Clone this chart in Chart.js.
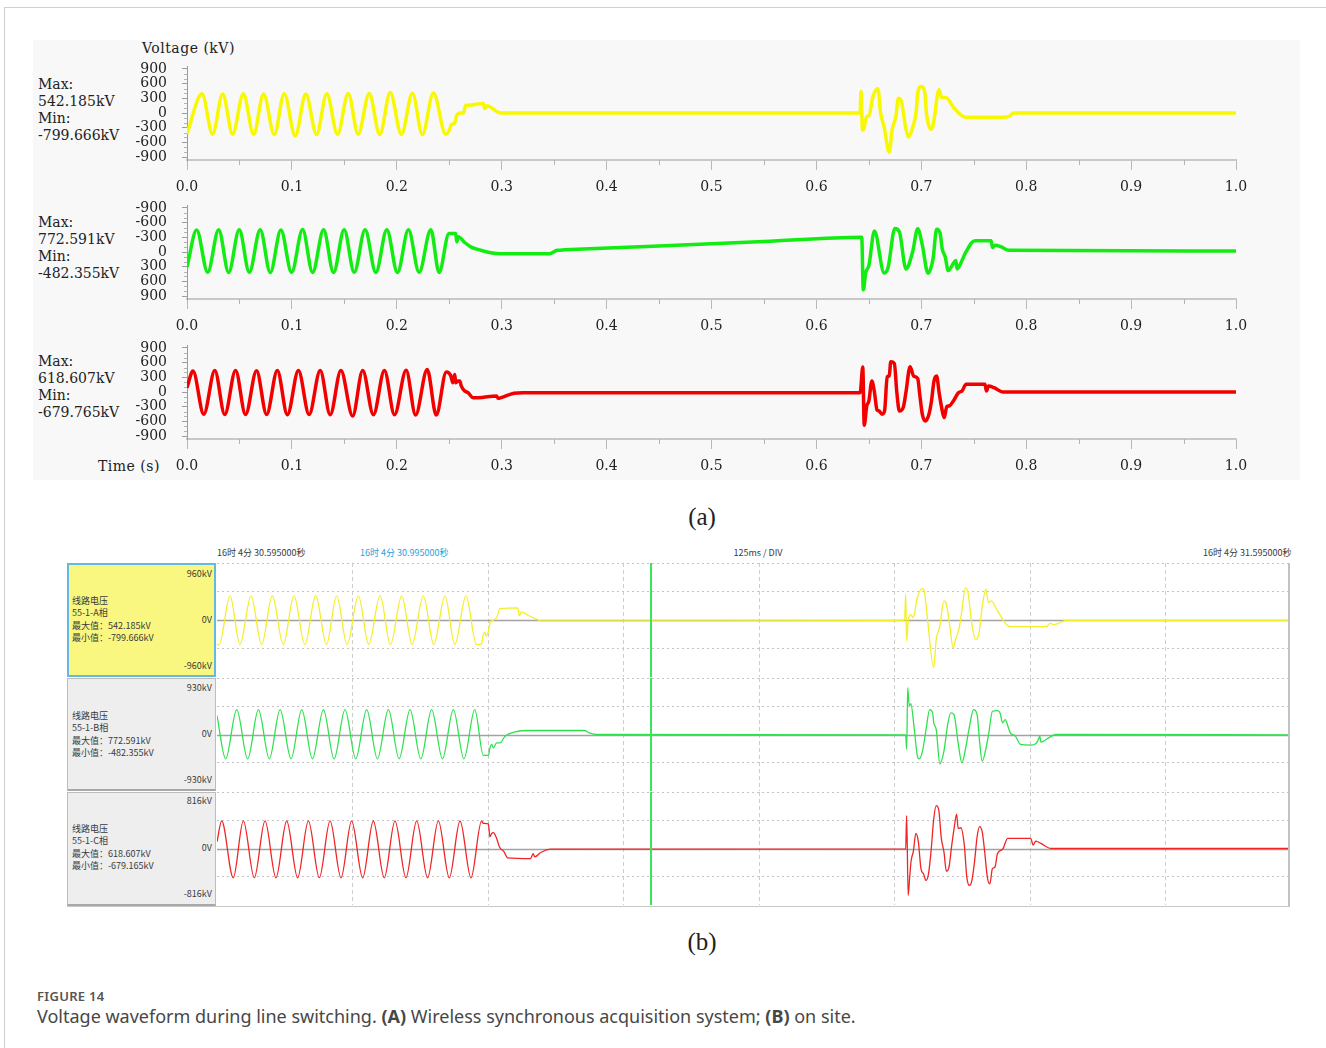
<!DOCTYPE html>
<html>
<head>
<meta charset="utf-8">
<title>Voltage waveform during line switching</title>
<script src="https://cdn.jsdelivr.net/npm/chart.js@4.4.1/dist/chart.umd.min.js"></script>
<style>
  html, body { margin: 0; padding: 0; background: #fff; }
  body { width: 1326px; height: 1048px; position: relative; overflow: hidden; font-family: "Noto Sans", sans-serif; }
  .abs { position: absolute; }
  #frame { left: 4px; top: 7px; width: 1322px; height: 1041px; border-top: 1px solid #cfcfcf; border-left: 1px solid #cfcfcf; box-sizing: border-box; }
  #scopeBg { left: 33px; top: 40px; width: 1267px; height: 440px; background: #f8f8f8; }
  .serif { font-family: "DejaVu Serif", serif; font-size: 14px; color: #222; white-space: nowrap; }
  .info { line-height: 17px; }
  .panelTag { font-family: "Liberation Serif", serif; font-size: 25px; color: #222; width: 60px; text-align: center; line-height: 30px; }
  .cjk { font-family: "Noto Sans CJK SC", sans-serif; font-size: 9px; color: #3a3a3a; line-height: 12px; white-space: nowrap; }
  .box { box-sizing: border-box; }
  #boxA { left: 67px; top: 563px; width: 149px; height: 114px; background: #f9f77f; border: 2px solid #62b9e4; }
  #boxB { left: 67px; top: 678px; width: 149px; height: 113px; background: #eeeeee; border: 1px solid #bdbdbd; border-bottom: 2px solid #a8a8a8; }
  #boxC { left: 67px; top: 792px; width: 149px; height: 114px; background: #eeeeee; border: 1px solid #bdbdbd; border-bottom: 2px solid #a8a8a8; }
  .rlab { width: 60px; text-align: right; }
  #caption1 { left: 37px; top: 987px; font-size: 13px; font-weight: 600; color: #555; letter-spacing: 0.3px; line-height: 18px; }
  #caption2 { left: 37px; top: 1004px; font-size: 18px; color: #474747; line-height: 24px; white-space: nowrap; }
  canvas { position: absolute; }
</style>
</head>
<body>
<div id="frame" class="abs"></div>
<div id="scopeBg" class="abs"></div>

<!-- wireless acquisition traces -->
<div class="abs serif" style="left:142px; top:40px; line-height:16px; letter-spacing:0.5px;">Voltage (kV)</div>
<div class="abs serif info" style="left:38px; top:76px;">Max:<br>542.185kV<br>Min:<br>-799.666kV</div>
<div class="abs serif info" style="left:38px; top:214px;">Max:<br>772.591kV<br>Min:<br>-482.355kV</div>
<div class="abs serif info" style="left:38px; top:353px;">Max:<br>618.607kV<br>Min:<br>-679.765kV</div>
<div class="abs serif" style="left:98px; top:458px; line-height:16px; letter-spacing:0.5px;">Time (s)</div>
<canvas id="scopeA" width="1267" height="140" style="left:33px; top:60px;"></canvas>
<canvas id="scopeB" width="1267" height="140" style="left:33px; top:199px;"></canvas>
<canvas id="scopeC" width="1267" height="140" style="left:33px; top:339px;"></canvas>
<div class="abs panelTag" style="left:672px; top:502px;">(a)</div>

<!-- on-site recorder traces -->
<div class="abs cjk" style="left:217px; top:547px;">16时 4分 30.595000秒</div>
<div class="abs cjk" style="left:360px; top:547px; color:#2a9fd8;">16时 4分 30.995000秒</div>
<div class="abs cjk" style="left:708px; top:547px; width:100px; text-align:center;">125ms / DIV</div>
<div class="abs cjk" style="left:1203px; top:547px;">16时 4分 31.595000秒</div>

<div id="boxA" class="abs box"></div>
<div id="boxB" class="abs box"></div>
<div id="boxC" class="abs box"></div>

<div class="abs cjk rlab" style="left:152px; top:568px;">960kV</div>
<div class="abs cjk rlab" style="left:152px; top:614px;">0V</div>
<div class="abs cjk rlab" style="left:152px; top:660px;">-960kV</div>
<div class="abs cjk" style="left:72px; top:595px;">线路电压</div>
<div class="abs cjk" style="left:72px; top:607px;">55-1-A相</div>
<div class="abs cjk" style="left:72px; top:620px;">最大值：542.185kV</div>
<div class="abs cjk" style="left:72px; top:632px;">最小值：-799.666kV</div>

<div class="abs cjk rlab" style="left:152px; top:682px;">930kV</div>
<div class="abs cjk rlab" style="left:152px; top:728px;">0V</div>
<div class="abs cjk rlab" style="left:152px; top:774px;">-930kV</div>
<div class="abs cjk" style="left:72px; top:710px;">线路电压</div>
<div class="abs cjk" style="left:72px; top:722px;">55-1-B相</div>
<div class="abs cjk" style="left:72px; top:735px;">最大值：772.591kV</div>
<div class="abs cjk" style="left:72px; top:747px;">最小值：-482.355kV</div>

<div class="abs cjk rlab" style="left:152px; top:795px;">816kV</div>
<div class="abs cjk rlab" style="left:152px; top:842px;">0V</div>
<div class="abs cjk rlab" style="left:152px; top:888px;">-816kV</div>
<div class="abs cjk" style="left:72px; top:823px;">线路电压</div>
<div class="abs cjk" style="left:72px; top:835px;">55-1-C相</div>
<div class="abs cjk" style="left:72px; top:848px;">最大值：618.607kV</div>
<div class="abs cjk" style="left:72px; top:860px;">最小值：-679.165kV</div>

<canvas id="siteA" width="1071" height="114" style="left:217px; top:563px;"></canvas>
<canvas id="siteB" width="1071" height="113" style="left:217px; top:678px;"></canvas>
<canvas id="siteC" width="1071" height="113" style="left:217px; top:792px;"></canvas>
<div class="abs" style="left:1288px; top:563px; width:2px; height:344px; background:#c2c2c2;"></div>
<div class="abs" style="left:67px; top:906px; width:1223px; height:1px; background:#c8c8c8;"></div>
<div class="abs panelTag" style="left:672px; top:927px;">(b)</div>

<div id="caption1" class="abs">FIGURE 14</div>
<div id="caption2" class="abs">Voltage waveform during line switching. <b>(A)</b> Wireless synchronous acquisition system; <b>(B)</b> on site.</div>

<script>
// ---- time axis / tick values ----
const TIME_TICKS = [0, 0.1, 0.2, 0.3, 0.4, 0.5, 0.6, 0.7, 0.8, 0.9, 1.0];
const TIME_MINOR = [0.05, 0.15, 0.25, 0.35, 0.45, 0.55, 0.65, 0.75, 0.85, 0.95];
const KV_TICKS = [-900, -600, -300, 0, 300, 600, 900];
const KV_MINOR = [-800, -700, -500, -400, -200, -100, 100, 200, 400, 500, 700, 800];
const DIV_TICKS = [0.125, 0.25, 0.375, 0.5, 0.625, 0.75, 0.875];   // 125 ms / DIV
const CURSOR_T = 0.4;                                                // 30.995 s cursor
const SITE_RANGE = [960, 930, 816];                                  // kV full scale per trace

// ---- wireless acquisition: [time s, voltage kV] ----
const scopePhaseA = [
  [0, -425], [0.0143, 391], [0.0244, -433], [0.034, 388], [0.0435, -430], [0.0537, 395],
  [0.0635, -436], [0.073, 390], [0.0832, -440], [0.0927, 392], [0.1032, -467], [0.1133, 389],
  [0.1235, -438], [0.1333, 393], [0.1435, -435], [0.1537, 396], [0.1632, -432], [0.1737, 398],
  [0.1838, -440], [0.1937, 420], [0.2044, -436], [0.2149, 401], [0.2244, -440], [0.2349, 410],
  [0.2467, -433], [0.2498, -363], [0.252, -237], [0.2552, -209], [0.2571, -49], [0.261, 0],
  [0.2635, 0], [0.2657, 160], [0.2689, 160], [0.2825, 195], [0.2838, 90], [0.2857, 147],
  [0.299, 0], [0.6417, 0], [0.6425, 440], [0.644, -350], [0.6451, -330], [0.648, -70],
  [0.65, -60], [0.6539, 335], [0.6587, 495], [0.6612, 0], [0.6646, -290], [0.6694, -799.666],
  [0.6723, -330], [0.6757, -80], [0.6782, 300], [0.6806, 265], [0.6854, -330], [0.6879, -490],
  [0.6917, -300], [0.6951, 20], [0.6966, 405], [0.7, 542.185], [0.7034, 405], [0.7049, 0],
  [0.7097, -330], [0.7131, -10], [0.7146, 265], [0.717, 475], [0.7194, 315], [0.7233, 315],
  [0.7316, 90], [0.7422, -85], [0.7777, -85], [0.785, -55], [0.7874, 0], [1.0, 0]
];
const scopePhaseB = [
  [0, 310], [0.0092, -450], [0.0197, 415], [0.0302, -455], [0.0397, 418], [0.0498, -452],
  [0.0594, 415], [0.0698, -455], [0.0794, 420], [0.0895, -450], [0.0997, 416], [0.1102, -458],
  [0.1197, 418], [0.1302, -452], [0.1397, 420], [0.1498, -455], [0.1594, 415], [0.1698, -452],
  [0.18, 418], [0.1905, -455], [0.2006, 420], [0.2111, -452], [0.2213, 416], [0.2324, -455],
  [0.2403, 418], [0.2498, -380], [0.2562, -380], [0.2571, -208], [0.2587, -312], [0.2641, -208],
  [0.2705, -104], [0.28, -35], [0.2895, 14], [0.299, 35], [0.3456, 35], [0.3529, -35],
  [0.36, -44], [0.45, -122], [0.55, -213],
  [0.6432, -300], [0.6447, 772.591], [0.6471, 415], [0.65, 280], [0.6553, -430], [0.6646, 430],
  [0.6684, 310], [0.6748, -482.355], [0.6791, -415], [0.6854, 346], [0.6917, 0], [0.6966, -475],
  [0.701, -140], [0.7063, 430], [0.7112, 140], [0.7146, -465], [0.718, -380], [0.7199, -70],
  [0.7228, 100], [0.7257, 380], [0.733, 173], [0.734, 345], [0.7388, 173], [0.7422, 14],
  [0.751, -230], [0.7665, -230], [0.768, -90], [0.7704, -140], [0.7762, -104], [0.7835, -35],
  [1.0, -20]
];
const scopePhaseC = [
  [0, 88], [0.0057, 428], [0.016, -455], [0.0265, 440], [0.036, -460], [0.0463, 440],
  [0.0558, -460], [0.0663, 435], [0.0759, -460], [0.0861, 440], [0.0957, -465], [0.1062, 440],
  [0.1164, -460], [0.127, 440], [0.1365, -465], [0.1467, 440], [0.1579, -490], [0.1675, 440],
  [0.1777, -465], [0.1882, 440], [0.1978, -465], [0.2089, 445], [0.2179, -470], [0.229, 460],
  [0.2376, -470], [0.2472, 410], [0.2513, 340], [0.2535, 190], [0.2552, 360], [0.2562, 190],
  [0.2584, 225], [0.26, 225], [0.2615, 120], [0.2648, 20], [0.2679, -14], [0.2727, -115],
  [0.2775, -115], [0.295, -80], [0.2966, -130], [0.2995, -115], [0.3117, -27], [0.32, -14],
  [0.6417, -14], [0.6442, 510], [0.6456, -679.765], [0.648, -285], [0.65, -183], [0.6529, 224],
  [0.6553, 0], [0.6578, -367], [0.6597, -387], [0.6626, -455], [0.665, -387], [0.6675, 312],
  [0.6694, 326], [0.6709, 618.607], [0.6743, 584], [0.6767, -14], [0.6791, -387], [0.683, -300],
  [0.6854, 0], [0.6893, 516], [0.6927, 326], [0.6966, 272], [0.6985, -48], [0.701, -455],
  [0.7039, -591], [0.7073, -455], [0.7097, -183], [0.7121, 224], [0.7146, 326], [0.717, -14],
  [0.7194, -320], [0.7218, -523], [0.7243, -300], [0.7267, -285], [0.7306, -183], [0.7354, -14],
  [0.7388, 20], [0.7427, 156], [0.7607, 156], [0.7621, 20], [0.7641, 122], [0.7694, 88],
  [0.7777, 0], [1.0, 0]
];

// ---- on-site recorder: [time s from 30.595 s, voltage kV] ----
const sitePhaseA = [
  [0, -412], [0.002, -414], [0.012, 407], [0.0212, -412], [0.0314, 405], [0.0412, -415],
  [0.051, 408], [0.0611, -412], [0.071, 406], [0.0811, -414], [0.091, 408], [0.101, -412],
  [0.1104, 407], [0.12, -413], [0.1304, 405], [0.14, -412], [0.1504, 409], [0.16, -414],
  [0.1704, 406], [0.18, -412], [0.1903, 408], [0.2, -413], [0.2103, 407], [0.2194, -412],
  [0.2297, 406], [0.2393, -412], [0.244, -412], [0.2457, -243], [0.2472, -203], [0.2481, -271],
  [0.2503, -190], [0.2518, -45], [0.2549, 0], [0.258, 40], [0.2611, 192], [0.2775, 203],
  [0.2789, 68], [0.2808, 136], [0.2869, 80], [0.2964, 0], [0.2987, -17], [0.6235, -10],
  [0.6343, 0], [0.6353, 435], [0.6362, -356], [0.6376, -17], [0.64, 96], [0.6423, 40],
  [0.6461, 379], [0.6508, 531], [0.6527, 463], [0.6555, 11], [0.6611, -799.666], [0.6635, -328],
  [0.6668, -102], [0.6706, 322], [0.6729, 265], [0.6762, -130], [0.6791, -469], [0.6814, -328],
  [0.6847, -130], [0.6871, 153], [0.6904, 542.185], [0.6928, 463], [0.6966, -102], [0.6999, -327],
  [0.7027, -243], [0.706, 237], [0.7093, 520], [0.7117, 294], [0.7141, 322], [0.7202, 150],
  [0.7273, -56], [0.732, -113], [0.765, -113], [0.7687, -56], [0.772, -79], [0.7838, -5],
  [0.988, -5]
];
const sitePhaseB = [
  [0, 312], [0.008, -400], [0.0182, 410], [0.0283, -402], [0.0382, 408], [0.0483, -400],
  [0.0582, 411], [0.0683, -401], [0.0782, 409], [0.088, -400], [0.0982, 410], [0.108, -402],
  [0.1181, 408], [0.128, -400], [0.1381, 410], [0.148, -401], [0.1581, 409], [0.168, -400],
  [0.1781, 410], [0.188, -402], [0.198, 408], [0.208, -400], [0.218, 410], [0.2278, -401],
  [0.2378, 410], [0.2457, -345], [0.2503, -345], [0.2518, -219], [0.2534, -164], [0.2549, -219],
  [0.258, -137], [0.2611, -137], [0.2658, -27], [0.2752, 44], [0.2893, 66], [0.3387, 66],
  [0.3434, 27], [0.3505, 0], [0.6353, -5], [0.6362, -246], [0.6372, 772.591], [0.6386, 465],
  [0.64, 509], [0.6433, 82], [0.6461, -355], [0.648, -400], [0.6508, -274], [0.6541, 82],
  [0.6574, 410], [0.6602, 355], [0.6612, 191], [0.6635, 82], [0.6668, -482.355], [0.6706, -274],
  [0.6743, 191], [0.6771, 355], [0.6799, 328], [0.6837, -137], [0.6871, -465], [0.6904, -246],
  [0.6942, 137], [0.6979, 410], [0.7012, 328], [0.7036, -137], [0.7059, -438], [0.7092, -246],
  [0.712, 27], [0.7153, 383], [0.72, 394], [0.7224, 355], [0.7247, 191], [0.7271, 246],
  [0.7294, 148], [0.7318, 27], [0.7365, -27], [0.7412, -164], [0.7506, -175], [0.7553, -153],
  [0.7577, -82], [0.7591, -27], [0.76, -126], [0.7671, -55], [0.7741, 0], [0.988, -5]
];
const sitePhaseC = [
  [0, 97], [0.0043, 398], [0.015, -423], [0.0243, 399], [0.0344, -421], [0.0443, 398],
  [0.0544, -424], [0.0643, 397], [0.0744, -423], [0.0843, 398], [0.0944, -422], [0.1043, 399],
  [0.1144, -423], [0.1242, 398], [0.1344, -424], [0.1442, 397], [0.1543, -423], [0.1642, 398],
  [0.1743, -422], [0.1842, 399], [0.1943, -423], [0.2042, 398], [0.2143, -424], [0.2242, 397],
  [0.2343, -423], [0.2441, 398], [0.2457, 364], [0.2503, 355], [0.2518, 170], [0.2534, 218],
  [0.2549, 228], [0.258, 146], [0.2605, 24], [0.2648, -49], [0.2681, -136], [0.2893, -146],
  [0.2917, -73], [0.2931, -121], [0.2987, -58], [0.3081, -10], [0.6353, -5], [0.6362, 476],
  [0.6376, -679.165], [0.639, -413], [0.6404, -170], [0.6423, -49], [0.6447, 218], [0.647, 97],
  [0.6494, -291], [0.6517, -364], [0.6541, -461], [0.6564, -364], [0.6588, -24], [0.6611, 413],
  [0.6635, 618.607], [0.6658, 558], [0.6682, 146], [0.6706, -49], [0.6729, -330], [0.6753, -267],
  [0.6776, 24], [0.68, 291], [0.6823, 495], [0.6837, 291], [0.6861, 300], [0.6894, 49],
  [0.6917, -413], [0.6941, -534], [0.6964, -461], [0.6988, -194], [0.7012, 170], [0.7035, 316],
  [0.7059, 243], [0.7082, -49], [0.7106, -413], [0.713, -510], [0.7153, -291], [0.7177, -267],
  [0.72, -73], [0.7247, -10], [0.7294, 146], [0.7506, 146], [0.753, 49], [0.7553, 107],
  [0.76, 73], [0.7694, 0], [0.988, 0]
];

const toXY = pts => pts.map(([t, v]) => ({ x: t, y: v }));
const fixedTicks = list => scale => { scale.ticks = list.map(v => ({ value: v })); };

// fixed axis box sizes, without the label overflow padding
const fixedBox = (w, h) => scale => {
  if (w !== null) scale.width = w;
  if (h !== null) scale.height = h;
  scale.paddingTop = 0; scale.paddingBottom = 0;
  scale.paddingLeft = 0; scale.paddingRight = 0;
};

// short minor tick marks on the scope axes
const minorTicks = {
  id: 'minorTicks',
  afterDraw(chart) {
    const { ctx, scales: { x, y } } = chart;
    ctx.save();
    ctx.strokeStyle = '#b4b4b4';
    ctx.lineWidth = 1;
    ctx.beginPath();
    TIME_MINOR.forEach(v => {
      const px = Math.round(x.getPixelForValue(v)) + 0.5;
      ctx.moveTo(px, x.top);
      ctx.lineTo(px, x.top + 5);
    });
    KV_MINOR.forEach(v => {
      const py = Math.round(y.getPixelForValue(v)) + 0.5;
      ctx.moveTo(y.right - 3, py);
      ctx.lineTo(y.right, py);
    });
    ctx.stroke();
    ctx.restore();
  }
};

function scopeChart(id, points, color, reversed) {
  const font = { family: 'DejaVu Serif', size: 14 };
  return new Chart(document.getElementById(id), {
    type: 'line',
    data: { datasets: [{ data: toXY(points), borderColor: color, borderWidth: 3.5, pointRadius: 0,
      cubicInterpolationMode: 'monotone', fill: false }] },
    options: {
      responsive: false, animation: false, devicePixelRatio: 1,
      layout: { autoPadding: false, padding: { top: 6, right: 64, left: 0, bottom: 0 } },
      plugins: { legend: { display: false }, tooltip: { enabled: false } },
      scales: {
        x: {
          type: 'linear', min: 0, max: 1,
          afterBuildTicks: fixedTicks(TIME_TICKS),
          afterFit: fixedBox(null, 40),
          ticks: { callback: v => Number(v).toFixed(1), font, color: '#222', padding: 9, maxRotation: 0, autoSkip: false },
          grid: { drawOnChartArea: false, tickLength: 10, color: '#b8b8b8' },
          border: { color: '#c8c8c8', width: 2 }
        },
        y: {
          type: 'linear', min: -960, max: 960, reverse: reversed,
          afterBuildTicks: fixedTicks(KV_TICKS),
          afterFit: fixedBox(154, null),
          ticks: { callback: v => String(v), font, color: '#222', padding: 15, autoSkip: false },
          grid: { drawOnChartArea: false, tickLength: 5, color: '#9c9c9c' },
          border: { color: '#9c9c9c', width: 1 }
        }
      }
    },
    plugins: [minorTicks]
  });
}

// zero reference line and time cursor of the recorder view
const siteOverlay = {
  id: 'siteOverlay',
  beforeDatasetsDraw(chart) {
    const { ctx, chartArea: a, scales: { y } } = chart;
    const py = Math.round(y.getPixelForValue(0)) + 0.5;
    ctx.save();
    ctx.strokeStyle = '#a2a2a2';
    ctx.lineWidth = 1.5;
    ctx.beginPath();
    ctx.moveTo(a.left, py);
    ctx.lineTo(a.right, py);
    ctx.stroke();
    ctx.restore();
  },
  afterDatasetsDraw(chart) {
    const { ctx, chartArea: a, scales: { x } } = chart;
    const px = Math.round(x.getPixelForValue(CURSOR_T));
    ctx.save();
    ctx.strokeStyle = '#3ee35c';
    ctx.lineWidth = 2;
    ctx.beginPath();
    ctx.moveTo(px, a.top);
    ctx.lineTo(px, a.bottom);
    ctx.stroke();
    ctx.restore();
  }
};

function siteChart(id, points, color, range) {
  return new Chart(document.getElementById(id), {
    type: 'line',
    data: { datasets: [{ data: toXY(points), borderColor: color, borderWidth: 1.3, pointRadius: 0,
      cubicInterpolationMode: 'monotone', fill: false }] },
    options: {
      responsive: false, animation: false, devicePixelRatio: 1,
      layout: { autoPadding: false, padding: 0 },
      plugins: { legend: { display: false }, tooltip: { enabled: false } },
      scales: {
        x: {
          type: 'linear', min: 0, max: 0.988,
          afterBuildTicks: fixedTicks(DIV_TICKS),
          afterFit: fixedBox(null, 0),
          ticks: { display: false },
          grid: { color: '#cdcdcd', drawTicks: false, lineWidth: 1 },
          border: { display: false, dash: [4, 3] }
        },
        y: {
          type: 'linear', min: -range, max: range,
          afterBuildTicks: fixedTicks([-range, -range / 2, range / 2, range]),
          afterFit: fixedBox(0, null),
          ticks: { display: false },
          grid: { color: '#c4c4c4', drawTicks: false, lineWidth: 1 },
          border: { display: false, dash: [2, 3] }
        }
      }
    },
    plugins: [siteOverlay]
  });
}

scopeChart('scopeA', scopePhaseA, '#f8f800', false);
scopeChart('scopeB', scopePhaseB, '#12ec12', true);
scopeChart('scopeC', scopePhaseC, '#f20000', false);

siteChart('siteA', sitePhaseA, '#f4ef2a', SITE_RANGE[0]);
siteChart('siteB', sitePhaseB, '#2ee24e', SITE_RANGE[1]);
siteChart('siteC', sitePhaseC, '#f02424', SITE_RANGE[2]);
</script>
</body>
</html>
